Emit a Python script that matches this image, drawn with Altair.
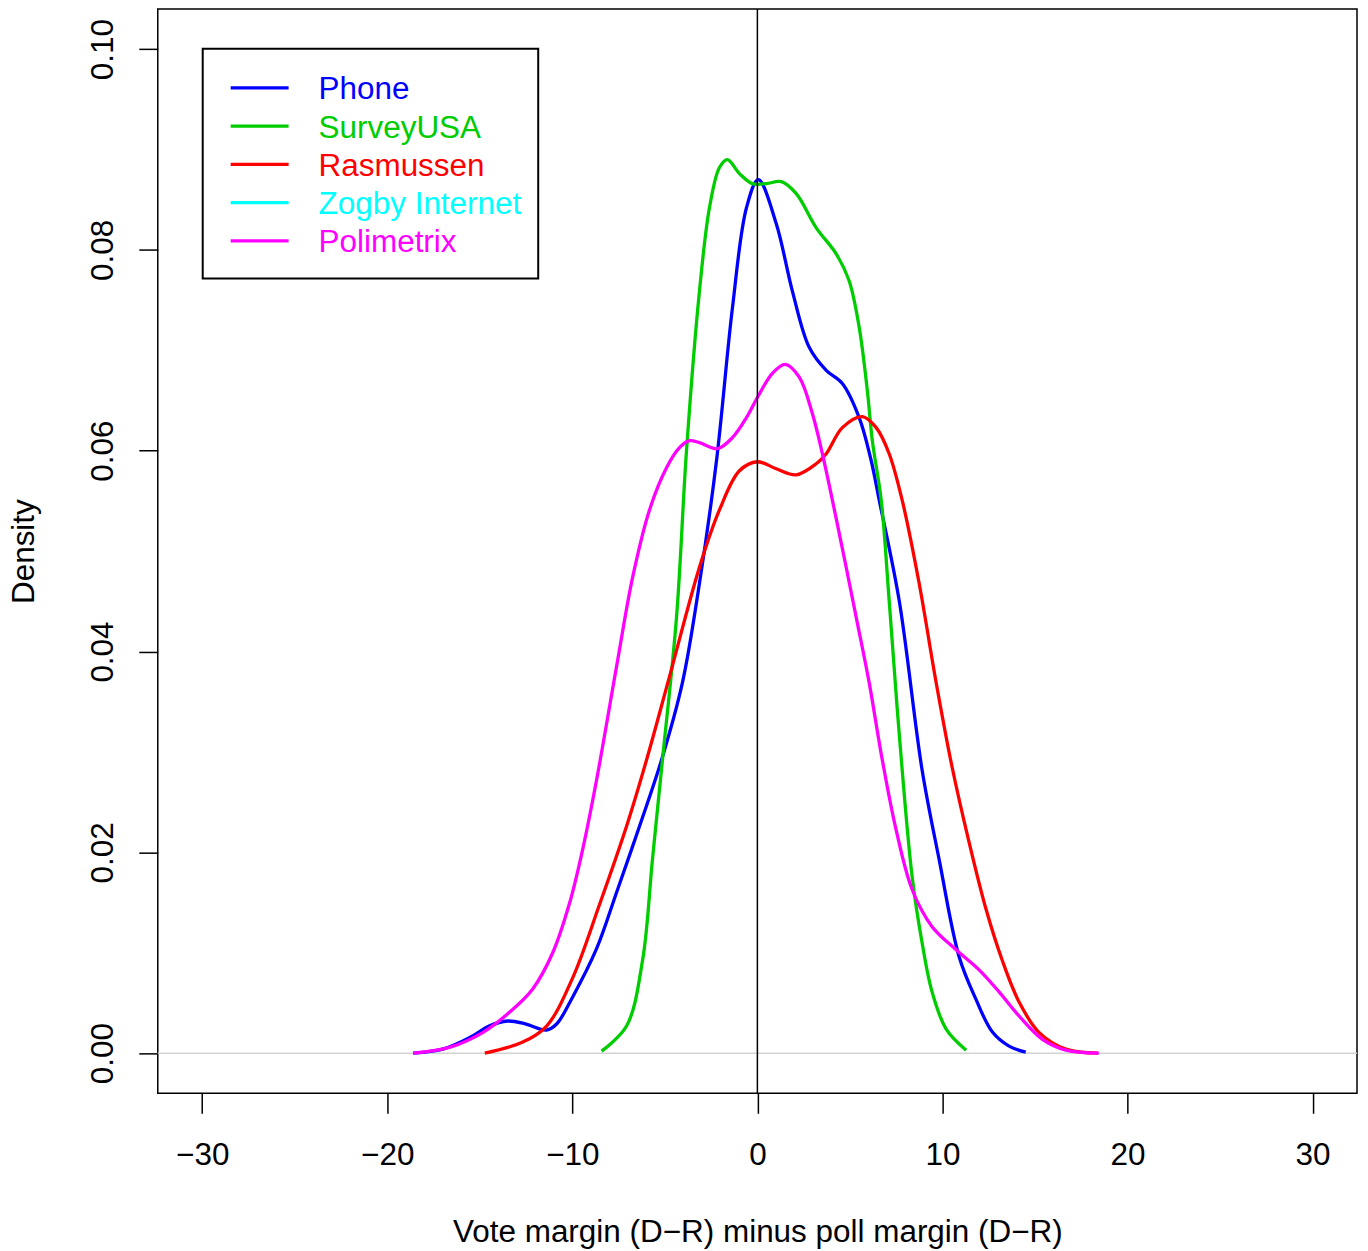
import altair as alt
import pandas as pd

FONT = "Liberation Sans"
FS = 31.5

series_names = ["Phone", "SurveyUSA", "Rasmussen", "Zogby Internet", "Polimetrix"]
series_colors = ["#0000ff", "#00cd00", "#ff0000", "#00ffff", "#ff00ff"]

x_ticks = [-30, -20, -10, 0, 10, 20, 30]
y_ticks = [0.0, 0.02, 0.04, 0.06, 0.08, 0.10]

phone_x = [-18.6, -17.0, -15.5, -14.5, -13.5, -12.5, -11.4, -10.85, -9.98, -8.69, -7.61, -6.37,
           -5.18, -4.05, -3.13, -2.21, -1.35, -0.59, 0.05, 1.02, 1.89, 2.8, 3.72, 4.59, 5.5,
           6.15, 6.58, 7.66, 8.9, 9.82, 10.9, 11.8, 12.7, 13.6, 14.5]
phone_y = [0.0, 0.0004, 0.0016, 0.0027, 0.0032, 0.0029, 0.0023, 0.0029, 0.0056, 0.0104, 0.016,
           0.0226, 0.0292, 0.0369, 0.0468, 0.059, 0.0742, 0.0842, 0.087, 0.0826, 0.0759, 0.0703,
           0.068, 0.0667, 0.0633, 0.059, 0.0551, 0.0451, 0.0282, 0.0193, 0.0096, 0.0054, 0.0021,
           0.0007, 0.0001]

survey_x = [-8.42, -7.07, -6.2, -5.67, -5.13, -4.37, -3.83, -3.13, -2.59, -2.05, -1.62, -0.97,
            -0.27, 0.49, 1.29, 2.1, 3.18, 4.26, 4.96, 5.5, 5.94, 6.21, 6.69, 7.12, 7.66, 8.36,
            8.9, 9.44, 10.2, 11.28]
survey_y = [0.0002, 0.0027, 0.0093, 0.0193, 0.0292, 0.0434, 0.06, 0.0759, 0.0842, 0.0882, 0.089,
            0.0876, 0.0866, 0.0866, 0.0868, 0.0856, 0.0822, 0.0796, 0.0769, 0.0723, 0.066, 0.061,
            0.0551, 0.0451, 0.0319, 0.0176, 0.011, 0.0061, 0.0024, 0.0003]

rasm_x = [-14.73, -12.68, -11.39, -9.98, -8.53, -7.07, -5.99, -4.75, -3.13, -2.05, -0.97, 0.0,
          1.02, 2.1, 3.18, 3.72, 4.59, 5.67, 6.42, 7.12, 7.82, 8.74, 9.66, 10.52, 11.44, 12.36,
          13.22, 14.14, 15.2, 16.67, 18.4]
rasm_y = [0.0, 0.0011, 0.0027, 0.0075, 0.0148, 0.0226, 0.0292, 0.0375, 0.0484, 0.0541, 0.058,
          0.0589, 0.0582, 0.0576, 0.0587, 0.0597, 0.0623, 0.0634, 0.0623, 0.0597, 0.0551, 0.0468,
          0.0369, 0.0285, 0.021, 0.0143, 0.0093, 0.0051, 0.0021, 0.0004, 0.0]

zogby_x = []
zogby_y = []

poli_x = [-18.6, -16.6, -14.8, -13.38, -12.14, -11.06, -10.14, -9.44, -8.69, -7.61, -6.74, -5.83,
          -4.91, -4.21, -3.67, -3.13, -2.16, -1.35, -0.59, 0.0, 0.81, 1.51, 2.27, 2.97, 3.51,
          4.42, 5.34, 6.04, 6.74, 7.5, 8.36, 9.44, 10.74, 11.98, 13.06, 14.14, 15.38, 16.67, 18.45]
poli_y = [0.0, 0.0006, 0.0021, 0.0041, 0.0064, 0.01, 0.015, 0.0203, 0.0272, 0.0385, 0.0474,
          0.0541, 0.0583, 0.0603, 0.061, 0.0608, 0.0602, 0.0613, 0.0633, 0.0653, 0.0677, 0.0686,
          0.0673, 0.0637, 0.0597, 0.0518, 0.0434, 0.0369, 0.0293, 0.0222, 0.0163, 0.0126,
          0.0103, 0.0083, 0.0061, 0.0037, 0.0014, 0.0003, 0.0]

series_x = [phone_x, survey_x, rasm_x, zogby_x, poli_x]
series_y = [phone_y, survey_y, rasm_y, zogby_y, poli_y]

W, H = 1201, 1086
xscale = alt.Scale(domain=[-32.4, 32.4], nice=False, zero=False)
yscale = alt.Scale(domain=[-0.004, 0.104], nice=False, zero=False)

x_axis = alt.Axis(values=x_ticks, format="d", grid=False, domain=False,
                  tickSize=20, tickWidth=1.5, tickColor="black",
                  labelFont=FONT, labelFontSize=FS, labelColor="black", labelPadding=26,
                  title="Vote margin (D\u2212R) minus poll margin (D\u2212R)",
                  titleFont=FONT, titleFontSize=FS, titleFontWeight="normal", titleColor="black",
                  titleX=W / 2, titleY=148, titleAlign="center", titleBaseline="alphabetic")
y_axis = alt.Axis(values=y_ticks, format=".2f", grid=False, domain=False,
                  tickSize=19, tickWidth=1.5, tickColor="black",
                  labelFont=FONT, labelFontSize=FS, labelColor="black", labelPadding=26,
                  labelAngle=270, labelAlign="center", labelBaseline="alphabetic",
                  title="Density", titleFont=FONT, titleFontSize=FS, titleFontWeight="normal",
                  titleColor="black", titleAngle=270, titleX=-124, titleY=H / 2,
                  titleAlign="center", titleBaseline="alphabetic")

layers = []

# horizontal zero line
layers.append(
    alt.Chart(pd.DataFrame({"y": [0.0]})).mark_rule(color="#d3d3d3", strokeWidth=1.5)
    .encode(y=alt.Y("y:Q", scale=yscale, axis=y_axis))
)

for name, col, xs, ys in zip(series_names, series_colors, series_x, series_y):
    if not xs:
        continue
    df = pd.DataFrame({"x": xs, "y": ys})
    layers.append(
        alt.Chart(df).mark_line(color=col, strokeWidth=3.3, interpolate="catmull-rom", clip=True)
        .encode(x=alt.X("x:Q", scale=xscale, axis=x_axis),
                y=alt.Y("y:Q", scale=yscale, axis=y_axis))
    )

# vertical zero line
layers.append(
    alt.Chart(pd.DataFrame({"x": [0.0]})).mark_rule(color="black", strokeWidth=1.5)
    .encode(x=alt.X("x:Q", scale=xscale, axis=x_axis))
)

# legend box
layers.append(
    alt.Chart(pd.DataFrame({"a": [0]})).mark_rect(fill="white", stroke="black", strokeWidth=2)
    .encode(x=alt.value(45), x2=alt.value(381), y=alt.value(40), y2=alt.value(270))
)

for i, (name, col) in enumerate(zip(series_names, series_colors)):
    ry = 79 + i * 38.3
    d = pd.DataFrame({"name": [name]})
    layers.append(
        alt.Chart(d).mark_rule(color=col, strokeWidth=3.3)
        .encode(x=alt.value(73), x2=alt.value(131), y=alt.value(ry))
    )
    layers.append(
        alt.Chart(d).mark_text(align="left", baseline="alphabetic", font=FONT,
                               fontSize=FS, color=col)
        .encode(x=alt.value(161), y=alt.value(ry + 11.5), text="name:N")
    )

chart = (
    alt.layer(*layers)
    .properties(width=W, height=H, autosize=alt.AutoSizeParams(type="none"),
                padding={"left": 150, "top": 0, "right": 3, "bottom": 156},
                background="white")
    .configure_view(stroke="black", strokeWidth=1.5)
)

chart.save("out.html", embed_options={"renderer": "svg", "actions": False})
